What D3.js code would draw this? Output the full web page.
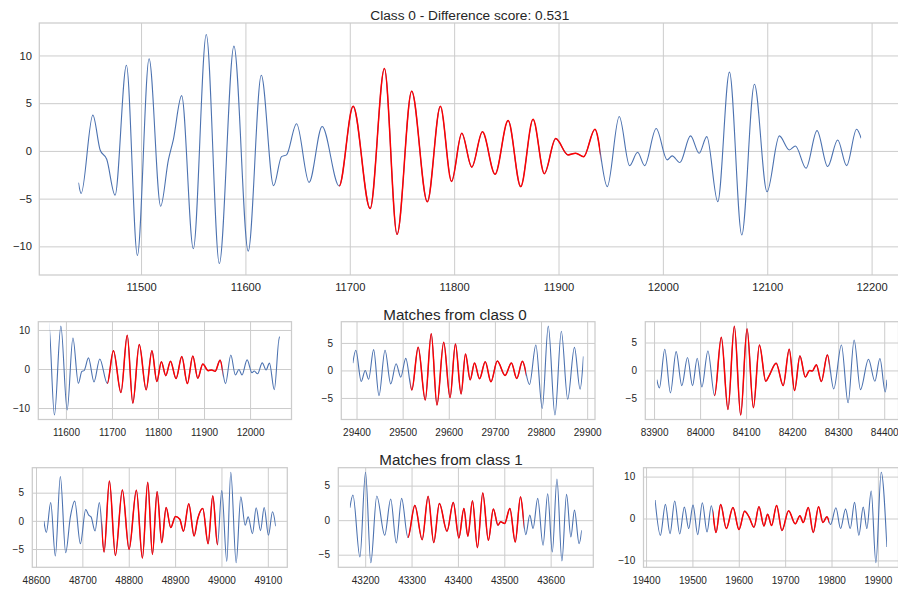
<!DOCTYPE html>
<html>
<head>
<meta charset="utf-8">
<script src="https://cdn.jsdelivr.net/npm/d3@7"></script>
<style>
  body { margin: 0; background: #ffffff; }
  svg { display: block; font-family: "Liberation Sans", Arial, sans-serif; }
</style>
</head>
<body>
<svg id="chart" width="898" height="592"></svg>
<script>
// ---- Signals: sample position (t) and value (v) at turning points ----
const sigA_t = [11440, 11442.6, 11453.8, 11460.8, 11467.1, 11475.1, 11486, 11496.5, 11507.7, 11518.8, 11526.2, 11530.9, 11538.9, 11550.1, 11562.5, 11575, 11589, 11602.7, 11615.2, 11627, 11634.6, 11639.4, 11649, 11661, 11673.5, 11689.8, 11703.2, 11719.5, 11733.2, 11745.3, 11759.3, 11774.3, 11786.8, 11797.5, 11807.3, 11816.9, 11827.1, 11839.2, 11851.7, 11863.8, 11875.6, 11886.4, 11897.3, 11909.1, 11916.4, 11924.1, 11934.9, 11946.7, 11958.2, 11968.1, 11975.8, 11982.5, 11993.6, 12004.1, 12008.9, 12016.3, 12026.5, 12034.8, 12042.1, 12052.6, 12063.8, 12075.6, 12087.7, 12099.8, 12111.6, 12121.2, 12127, 12137.2, 12147.7, 12157.9, 12167.5, 12176.1, 12185.6, 12190];
const sigA_v = [-3.33, -4.46, 3.75, 0.1, -0.88, -4.63, 8.98, -10.95, 9.65, -5.79, -0.95, 1.16, 5.79, -10.25, 12.2, -11.8, 10.98, -10.5, 7.93, -3.65, -0.6, -0.42, 2.84, -3.3, 2.56, -3.68, 4.67, -6.04, 8.63, -8.74, 6.25, -5.33, 4.67, -3.2, 1.85, -1.7, 2.0, -2.45, 3.18, -3.74, 3.32, -2.38, 1.29, -0.42, -0.24, -0.6, 2.27, -3.74, 3.6, -1.54, -0.14, -1.54, 2.34, -0.94, -0.52, -1.22, 1.57, -0.24, 1.5, -5.31, 8.25, -8.81, 6.99, -4.27, 1.57, 0.1, 0.52, -1.82, 2.13, -1.64, 1.15, -1.54, 2.27, 1.33];

const sigB_t = [29392, 29398.5, 29410.2, 29418.9, 29426.2, 29437.1, 29448.7, 29461.8, 29474.1, 29485.8, 29495.9, 29506.8, 29519.9, 29533.7, 29549, 29562, 29574.4, 29589, 29602.8, 29614.4, 29626.7, 29636.2, 29646.4, 29655.8, 29666.7, 29679.1, 29691.4, 29705.2, 29722, 29735.8, 29747.4, 29759.7, 29775, 29788.8, 29802.6, 29815.7, 29830.2, 29844, 29857.8, 29872.4, 29884.7, 29892];
const sigB_v = [1.34, 3.66, -2.0, 0.0, -1.6, 3.78, -4.57, 3.66, -2.44, 1.22, -1.22, 2.2, -3.54, 4.2, -5.37, 6.65, -6.28, 5.12, -4.94, 4.82, -4.27, 2.99, -1.71, 1.34, -1.52, 1.59, -2.07, 1.71, -0.91, 1.34, -1.46, 1.65, -2.56, 4.63, -6.89, 8.05, -8.11, 7.13, -5.24, 4.2, -3.41, 2.56];

const sigC_t = [83906, 83911.6, 83923.3, 83935.6, 83948, 83960.3, 83972.7, 83983.6, 83993.8, 84003.9, 84017, 84031.5, 84046.1, 84060.6, 84074.4, 84088.2, 84102, 84115.8, 84128.9, 84142.7, 84149.3, 84165.3, 84180.5, 84193.6, 84205.2, 84216.9, 84228.5, 84237.9, 84243.7, 84252.5, 84263.4, 84276.5, 84290.3, 84307, 84321.5, 84334.6, 84348.4, 84365.8, 84379.7, 84390.6, 84402.2, 84406];
const sigC_v = [-1.66, -3.14, 3.79, -4.02, 3.37, -2.72, 2.31, -2.72, 2.19, -2.96, 3.49, -4.5, 5.92, -6.98, 7.93, -7.99, 7.46, -6.69, 4.56, -1.95, -1.07, 1.3, -2.72, 3.79, -3.61, 2.6, -1.18, 0, -0.1, 1.0, -2.0, 2.78, -3.31, 4.56, -5.8, 5.44, -3.43, 2.01, -1.95, 2.13, -3.85, -1.66];

const sigD_t = [48617, 48622.3, 48631.7, 48641.7, 48652.5, 48664, 48674.1, 48683.5, 48695.7, 48707.2, 48713.7, 48718.7, 48727.3, 48736.7, 48746.8, 48758.3, 48771.2, 48786.3, 48800.7, 48816.5, 48829.5, 48841, 48851.1, 48861.2, 48871.2, 48880.6, 48890.6, 48900.7, 48910.1, 48918, 48929.5, 48941, 48948.9, 48959.7, 48971.2, 48981.3, 48991.4, 49000.7, 49011.5, 49020.1, 49031.7, 49041.7, 49051.1, 49057.6, 49066.9, 49074.8, 49084.2, 49092.1, 49101.4, 49110.1, 49117];
const sigD_v = [-0.06, -2.08, 3.27, -6.25, 7.86, -5.65, 0.7, 3.51, -4.05, 2.02, 1.0, 0.7, -1.79, 3.27, -5.54, 7.08, -6.13, 5.48, -5.06, 5.42, -6.61, 6.85, -5.95, 5.18, -3.87, 2.38, -1.19, 0.77, 0.3, -1.85, 3.04, -2.68, 0.42, 2.2, -4.05, 4.46, -4.23, 5.36, -7.2, 8.63, -7.44, 4.29, -0.77, 0.71, -2.26, 2.32, -1.73, 2.38, -2.56, 1.61, -0.95];

const sigE_t = [43167, 43173.6, 43188.6, 43200.7, 43212.1, 43225, 43242.1, 43255, 43267.1, 43278.6, 43292.1, 43307.1, 43322.9, 43335.7, 43347.9, 43360, 43376.4, 43390, 43402.1, 43412.9, 43421.4, 43431.4, 43442.1, 43453.6, 43465.7, 43476.4, 43486.4, 43492.1, 43500.7, 43512.1, 43523.6, 43535, 43546.4, 43555, 43562.1, 43572.1, 43583.6, 43593.6, 43603.6, 43613.6, 43624.3, 43634.3, 43643.6, 43651.4, 43661.4, 43667];
const sigE_v = [1.8, 3.64, -5.34, 6.94, -6.17, 3.5, -2.18, 3.06, -3.3, 3.16, -2.52, 2.14, -2.82, 3.45, -3.25, 2.43, -1.6, 2.57, -2.57, 1.7, -2.33, 2.82, -3.98, 3.93, -2.91, 1.6, -0.73, -0.24, -0.49, 1.7, -3.16, 3.4, -2.09, 0.73, -1.21, 3.16, -3.64, 3.83, -4.61, 5.97, -5.92, 3.74, -2.43, 1.46, -3.4, -1.46];

const sigF_t = [19419.5, 19430.9, 19441.7, 19451.7, 19461.8, 19472.6, 19482.6, 19492, 19501.3, 19511.4, 19521.4, 19531.5, 19540.8, 19550.9, 19560.9, 19573.1, 19587.5, 19600.4, 19612.6, 19622, 19632.8, 19643.5, 19654.3, 19662.2, 19670.8, 19681.6, 19693.1, 19707.5, 19721.8, 19731.9, 19739.1, 19749.9, 19760.6, 19772.1, 19781.5, 19790.1, 19798, 19809.5, 19819.5, 19830.3, 19840.4, 19849.7, 19859, 19868.4, 19876.3, 19885.6, 19895.7, 19907.2, 19919.5];
const sigF_v = [4.4, -4.0, 3.36, -3.6, 4.16, -3.68, 2.72, -2.4, 3.2, -3.84, 3.76, -3.2, 3.04, -3.36, 3.36, -2.4, 2.64, -2.64, 1.76, 0.4, -2.08, 2.8, -1.76, 1.04, -1.68, 3.12, -2.88, 1.84, -1.28, 0.64, -0.96, 2.64, -3.36, 2.8, -0.96, 0.4, -1.44, 2.56, -2.4, 2.24, -2.4, 3.84, -4.0, 2.72, -2.4, 6.56, -10.56, 11.04, -6.8];

// ---- Windows shown in each panel and the matched stretch inside it ----
const windowStart = [11440, 11565, 29392, 83906, 48617, 43167, 19419.5];
const windowEnd   = [12190, 12065, 29892, 84406, 49117, 43667, 19919.5];
const matchStart  = [11690, 11690, 29517, 84031, 48742, 43292, 19544.5];
const matchEnd    = [11940, 11940, 29767, 84281, 48992, 43542, 19794.5];

// ---- Tick values ----
const xTicksMain = [11500, 11600, 11700, 11800, 11900, 12000, 12100, 12200];
const yTicksMain = [-10, -5, 0, 5, 10];
const xTicksP1 = [11600, 11700, 11800, 11900, 12000];
const xTicksP2 = [29400, 29500, 29600, 29700, 29800, 29900];
const xTicksP3 = [83900, 84000, 84100, 84200, 84300, 84400];
const xTicksP4 = [48600, 48700, 48800, 48900, 49000, 49100];
const xTicksP5 = [43200, 43300, 43400, 43500, 43600];
const xTicksP6 = [19400, 19500, 19600, 19700, 19800, 19900];
const yTicksTen = [-10, 0, 10];
const yTicksFive = [-5, 0, 5];

// ---- Titles ----
const mainTitle = "Class 0 - Difference score: 0.531";
const rowTitles = ["Matches from class 0", "Matches from class 1"];

// ---- Styles ----
const BLUE = "#4c72b0", RED = "#ff0000", GRID = "#cccccc", INK = "#262626";

const svg = d3.select("#chart");

const panels = [
  { t: sigA_t, v: sigA_v, xt: xTicksMain, yt: yTicksMain, box: [39.3, 900.3, 23, 275], fs: 11.2, padX: 7.7, padY: 7.3 },
  { t: sigA_t, v: sigA_v, xt: xTicksP1, yt: yTicksTen,  box: [38.3, 291.5, 321.7, 419.5], fs: 10, padX: 9.5, padY: 8.3 },
  { t: sigB_t, v: sigB_v, xt: xTicksP2, yt: yTicksFive, box: [341.3, 595, 321.7, 419.5], fs: 10, padX: 9.5, padY: 8.3 },
  { t: sigC_t, v: sigC_v, xt: xTicksP3, yt: yTicksFive, box: [645.3, 898.5, 321.7, 419.5], fs: 10, padX: 9.5, padY: 8.3 },
  { t: sigD_t, v: sigD_v, xt: xTicksP4, yt: yTicksFive, box: [32.3, 287.3, 467.7, 567.3], fs: 10, padX: 9.5, padY: 8.3 },
  { t: sigE_t, v: sigE_v, xt: xTicksP5, yt: yTicksFive, box: [338.3, 593.3, 467.7, 567.3], fs: 10, padX: 9.5, padY: 8.3 },
  { t: sigF_t, v: sigF_v, xt: xTicksP6, yt: yTicksTen,  box: [643.5, 898.5, 467.7, 567.3], fs: 10, padX: 9.5, padY: 8.3 }
];

// 5% margin on each side, like matplotlib autoscaling
function padded(lo, hi) { const m = (hi - lo) * 0.05; return [lo - m, hi + m]; }

const fmt = d3.format("d");

panels.forEach((p, i) => {
  const [l, r, top, bot] = p.box;
  const w0 = windowStart[i], w1 = windowEnd[i];
  const pts = p.t.map((t, j) => ({ t, v: p.v[j] }));
  const inside = pts.filter(d => d.t >= w0 && d.t <= w1);
  const ext = d3.extent(inside, d => d.v);

  const x = d3.scaleLinear().domain(padded(w0, w1)).range([l, r]);
  const y = d3.scaleLinear().domain(padded(ext[0], ext[1])).range([bot, top]);

  const g = svg.append("g");

  // grid + tick labels
  const gx = g.append("g")
    .attr("transform", `translate(0,${bot})`)
    .call(d3.axisBottom(x).tickValues(p.xt).tickFormat(fmt).tickSize(-(bot - top)).tickPadding(p.padX));
  const gy = g.append("g")
    .attr("transform", `translate(${l},0)`)
    .call(d3.axisLeft(y).tickValues(p.yt).tickFormat(fmt).tickSize(-(r - l)).tickPadding(p.padY));
  [gx, gy].forEach(a => {
    a.select(".domain").remove();
    a.selectAll(".tick line").attr("stroke", GRID).attr("stroke-width", 1);
    a.selectAll(".tick text").attr("fill", INK).attr("font-size", p.fs)
      .attr("font-family", "Liberation Sans, Arial, sans-serif");
  });

  // clip regions: whole window, and the matched stretch
  const cidAll = `clipAll${i}`, cidRed = `clipRed${i}`;
  const defs = g.append("defs");
  defs.append("clipPath").attr("id", cidAll).append("rect")
    .attr("x", x(w0)).attr("y", top).attr("width", x(w1) - x(w0)).attr("height", bot - top);
  defs.append("clipPath").attr("id", cidRed).append("rect")
    .attr("x", x(matchStart[i])).attr("y", top).attr("width", x(matchEnd[i]) - x(matchStart[i])).attr("height", bot - top);

  const line = d3.line().x(d => x(d.t)).y(d => y(d.v)).curve(d3.curveMonotoneX);

  g.append("path").datum(pts)
    .attr("clip-path", `url(#${cidAll})`)
    .attr("d", line).attr("fill", "none")
    .attr("stroke", BLUE).attr("stroke-width", 1.1).attr("stroke-linejoin", "round");
  g.append("path").datum(pts)
    .attr("clip-path", `url(#${cidRed})`)
    .attr("d", line).attr("fill", "none")
    .attr("stroke", RED).attr("stroke-width", 1.5).attr("stroke-linejoin", "round");

  // axes frame
  g.append("rect")
    .attr("x", l).attr("y", top).attr("width", r - l).attr("height", bot - top)
    .attr("fill", "none").attr("stroke", GRID).attr("stroke-width", 1.25);

  if (i === 0) {
    g.append("text")
      .attr("x", (l + r) / 2).attr("y", top - 3.5)
      .attr("text-anchor", "middle").attr("fill", INK).attr("font-size", 13.7)
      .text(mainTitle);
  }
});

// row titles
svg.append("text").attr("x", 455).attr("y", 319.5).attr("text-anchor", "middle")
  .attr("fill", INK).attr("font-size", 15.2).text(rowTitles[0]);
svg.append("text").attr("x", 451).attr("y", 465).attr("text-anchor", "middle")
  .attr("fill", INK).attr("font-size", 15.2).text(rowTitles[1]);
</script>
</body>
</html>
